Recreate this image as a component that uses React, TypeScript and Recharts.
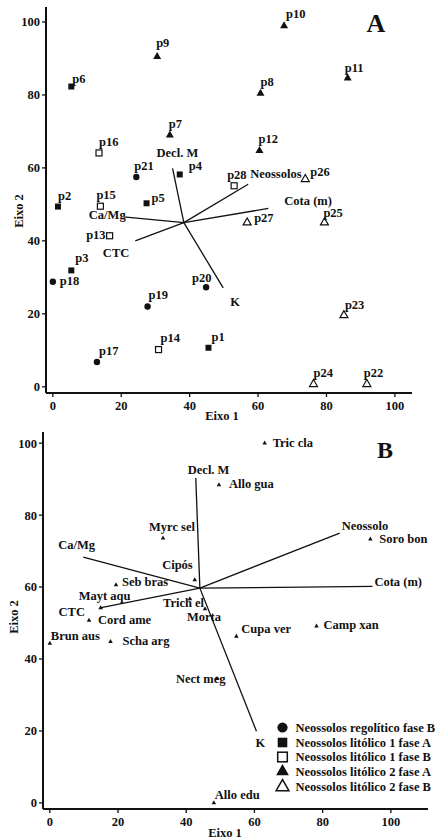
import React from 'react';
import { ScatterChart, Scatter, XAxis, YAxis, ReferenceLine, Label, Legend } from 'recharts';

const FONT = '"Liberation Serif", "Times New Roman", Times, serif';
const INK = '#111';

// ---------- Panel A: sample plots (Eixo 1, Eixo 2) ----------
const regoliticoB = [
  { name: 'p21', x: 24.4, y: 57.5 },
  { name: 'p18', x: 0, y: 28.8 },
  { name: 'p20', x: 44.8, y: 27.3 },
  { name: 'p19', x: 27.7, y: 22.0 },
  { name: 'p17', x: 12.9, y: 6.8 },
];
const litolico1A = [
  { name: 'p6', x: 5.4, y: 82.3 },
  { name: 'p4', x: 37.1, y: 58.2 },
  { name: 'p2', x: 1.5, y: 49.4 },
  { name: 'p5', x: 27.4, y: 50.3 },
  { name: 'p3', x: 5.4, y: 31.9 },
  { name: 'p1', x: 45.5, y: 10.7 },
];
const litolico1B = [
  { name: 'p16', x: 13.5, y: 64.1 },
  { name: 'p15', x: 13.9, y: 49.5 },
  { name: 'p13', x: 16.6, y: 41.4 },
  { name: 'p28', x: 53.0, y: 55.1 },
  { name: 'p14', x: 30.9, y: 10.2 },
];
const litolico2A = [
  { name: 'p10', x: 67.6, y: 98.9 },
  { name: 'p9', x: 30.5, y: 90.5 },
  { name: 'p11', x: 86.2, y: 84.6 },
  { name: 'p8', x: 60.7, y: 80.4 },
  { name: 'p7', x: 34.2, y: 69.0 },
  { name: 'p12', x: 60.4, y: 64.7 },
];
const litolico2B = [
  { name: 'p26', x: 73.8, y: 56.9 },
  { name: 'p27', x: 56.8, y: 45.0 },
  { name: 'p25', x: 79.4, y: 45.0 },
  { name: 'p23', x: 85.1, y: 19.6 },
  { name: 'p24', x: 76.2, y: 0.7 },
  { name: 'p22', x: 91.8, y: 0.7 },
];
const vectorOriginA = { x: 38.3, y: 45.0 };
const vectorsA = [
  { name: 'Decl. M', x: 35.0, y: 59.9 },
  { name: 'Neossolos', x: 57.1, y: 55.5 },
  { name: 'Cota (m)', x: 63.0, y: 48.9 },
  { name: 'Ca/Mg', x: 20.7, y: 46.6 },
  { name: 'CTC', x: 24.1, y: 40.0 },
  { name: 'K', x: 49.8, y: 27.1 },
];

// ---------- Panel B: species ----------
const species = [
  { name: 'Tric cla', x: 63.0, y: 100.0 },
  { name: 'Allo gua', x: 49.6, y: 88.4 },
  { name: 'Soro bon', x: 94.0, y: 73.3 },
  { name: 'Myrc sel', x: 33.2, y: 73.6 },
  { name: 'Cipós', x: 42.5, y: 62.0 },
  { name: 'Seb bras', x: 19.4, y: 60.6 },
  { name: 'Mayt aqu', x: 14.9, y: 54.2 },
  { name: 'Cord ame', x: 11.5, y: 50.7 },
  { name: 'Brun aus', x: 0, y: 44.3 },
  { name: 'Scha arg', x: 17.8, y: 44.8 },
  { name: 'Trich el', x: 41.1, y: 56.7 },
  { name: 'Morta', x: 45.5, y: 53.9 },
  { name: 'Cupa ver', x: 54.7, y: 46.3 },
  { name: 'Camp xan', x: 78.2, y: 49.1 },
  { name: 'Nect meg', x: 49.0, y: 34.5 },
  { name: 'Allo edu', x: 48.1, y: 0 },
];
const vectorOriginB = { x: 44.0, y: 59.7 };
const vectorsB = [
  { name: 'Decl. M', x: 42.8, y: 90.3 },
  { name: 'Neossolo', x: 85.0, y: 75.0 },
  { name: 'Cota (m)', x: 94.6, y: 60.2 },
  { name: 'Ca/Mg', x: 9.8, y: 68.3 },
  { name: 'CTC', x: 14.7, y: 54.2 },
  { name: 'K', x: 60.6, y: 19.9 },
];

const axisTicks = [0, 20, 40, 60, 80, 100];
const legendLabels = [
  'Neossolos regolítico fase B',
  'Neossolos litólico 1 fase A',
  'Neossolos litólico 1 fase B',
  'Neossolos litólico 2 fase A',
  'Neossolos litólico 2 fase B',
];
const legendKinds = ['circle', 'square', 'squareOpen', 'tri', 'triOpen'];

// ---------- label placement (dx, dy, anchor) ----------
type Pos = [number, number, string?];
const labelPosA: Record<string, Pos> = {
  p6: [1, -4], p9: [-1, -10], p7: [-1, -7], p16: [0, -7], p21: [-2, -7],
  p4: [9, -4], p2: [0, -7], p15: [-4, -7], p5: [5, -1], p10: [2, -8],
  p11: [-3, -6], p8: [0, -7], p12: [-1, -8], p28: [-7, -7], p26: [5, -3],
  p27: [7, -1], p25: [-1, -6], p23: [1, -6], p1: [3, -7], p24: [0, -7],
  p22: [-3, -7], p13: [-4, 3, 'end'], p3: [4, -8], p18: [7, 3], p20: [-14, -5],
  p19: [1, -8], p14: [2, -8], p17: [2, -7],
};
const vecPosA: Record<string, Pos> = {
  'Decl. M': [-16, -11], Neossolos: [2, -6], 'Cota (m)': [16, -3],
  'Ca/Mg': [2, 2, 'end'], CTC: [-6, 16, 'end'], K: [7, 18],
};
const labelPosB: Record<string, Pos> = {
  'Tric cla': [8, 4], 'Allo gua': [10, 3], 'Soro bon': [9, 4], 'Myrc sel': [-14, -7],
  'Cipós': [-2, -11, 'end'], 'Seb bras': [6, 1], 'Mayt aqu': [-22, -8], 'Cord ame': [9, 3],
  'Brun aus': [1, -4], 'Scha arg': [12, 3], 'Trich el': [-27, 8], Morta: [-18, 12],
  'Cupa ver': [5, -3], 'Camp xan': [7, 3], 'Nect meg': [-41, 4], 'Allo edu': [1, -4],
};
const vecPosB: Record<string, Pos> = {
  'Decl. M': [-8, -4], Neossolo: [2, -3], 'Cota (m)': [2, 0],
  'Ca/Mg': [-25, -8], CTC: [-15, 8, 'end'], K: [-1, 16],
};

const textStyle = { fontFamily: FONT, fontWeight: 'bold' as const, fontSize: 12.5, fill: INK };

function drawMarker(kind: string, cx: number, cy: number, s: number) {
  switch (kind) {
    case 'circle':
      return <circle cx={cx} cy={cy} r={3.2 * s} fill={INK} />;
    case 'square':
      return <rect x={cx - 3 * s} y={cy - 3 * s} width={6 * s} height={6 * s} fill={INK} />;
    case 'squareOpen':
      return (
        <rect x={cx - 3 * s} y={cy - 3 * s} width={6 * s} height={6 * s} fill="#fff" stroke={INK} strokeWidth={1.2 * Math.sqrt(s)} />
      );
    case 'tri':
    case 'triOpen': {
      const w = 8 * s, h = 7 * s;
      const d = `M${cx},${cy - (h * 2) / 3} L${cx - w / 2},${cy + h / 3} L${cx + w / 2},${cy + h / 3} Z`;
      return kind === 'tri' ? (
        <path d={d} fill={INK} />
      ) : (
        <path d={d} fill="#fff" stroke={INK} strokeWidth={1.2 * Math.sqrt(s)} strokeLinejoin="miter" />
      );
    }
    case 'tiny': {
      const w = 4.5, h = 4;
      const d = `M${cx},${cy - (h * 2) / 3} L${cx - w / 2},${cy + h / 3} L${cx + w / 2},${cy + h / 3} Z`;
      return <path d={d} fill={INK} />;
    }
    default:
      return null;
  }
}

const makeShape = (kind: string, posMap: Record<string, Pos>, s = 1) => (props: any) => {
  const { cx, cy, payload } = props;
  if (cx == null || cy == null || !payload) return <g />;
  const pos = posMap[payload.name] || [5, -5];
  return (
    <g>
      {kind !== 'none' && drawMarker(kind, cx, cy, s)}
      <text x={cx + pos[0]} y={cy + pos[1]} textAnchor={(pos[2] as any) || 'start'} {...textStyle}>
        {payload.name}
      </text>
    </g>
  );
};

const tickStyle = { fill: INK, fontSize: 12.5, fontWeight: 'bold', fontFamily: FONT };

const LegendBox = () => {
  const baselines = [10.5, 25.5, 40, 54.5, 70];
  return (
    <svg width={161} height={80} style={{ overflow: 'visible', display: 'block' }}>
      {legendLabels.map((lab, i) => (
        <g key={lab}>
          {drawMarker(legendKinds[i], 7.5, baselines[i] - 4, 1.6)}
          <text x={20.5} y={baselines[i]} {...textStyle}>
            {lab}
          </text>
        </g>
      ))}
    </svg>
  );
};

export default function App() {
  return (
    <div style={{ position: 'relative', width: 436, height: 839, background: '#fff' }}>
      <style>{'body{margin:0;background:#fff}'}</style>
      <div style={{ position: 'absolute', left: 0, top: 0 }}>
        <ScatterChart width={436} height={425} margin={{ top: 7, right: 24, bottom: 0, left: 0 }}>
          <XAxis
            type="number"
            dataKey="x"
            domain={[-2, 105]}
            allowDataOverflow
            ticks={axisTicks}
            height={32}
            tickSize={4}
            tickMargin={4}
            tick={tickStyle}
            axisLine={{ stroke: INK, strokeWidth: 2 }}
            tickLine={{ stroke: INK, strokeWidth: 1.3 }}
          >
            <Label
              content={() => (
                <g>
                  <text x={222} y={420} textAnchor="middle" {...textStyle}>Eixo 1</text>
                  <text x={376} y={32} textAnchor="middle" {...textStyle} fontSize={26}>A</text>
                </g>
              )}
            />
          </XAxis>
          <YAxis
            type="number"
            dataKey="y"
            domain={[-1.7, 104.1]}
            allowDataOverflow
            ticks={axisTicks}
            width={46}
            tickSize={4}
            tickMargin={2}
            tick={tickStyle}
            axisLine={{ stroke: INK, strokeWidth: 2 }}
            tickLine={{ stroke: INK, strokeWidth: 1.3 }}
          >
            <Label
              content={() => (
                <text x={23} y={211} textAnchor="middle" transform="rotate(-90 23 211)" {...textStyle}>Eixo 2</text>
              )}
            />
          </YAxis>
          {vectorsA.map((v) => (
            <ReferenceLine
              key={v.name}
              segment={[{ x: vectorOriginA.x, y: vectorOriginA.y }, { x: v.x, y: v.y }]}
              stroke={INK}
              strokeWidth={1.3}
            />
          ))}
          <Scatter data={vectorsA} shape={makeShape('none', vecPosA)} isAnimationActive={false} />
          <Scatter data={regoliticoB} shape={makeShape('circle', labelPosA)} isAnimationActive={false} />
          <Scatter data={litolico1A} shape={makeShape('square', labelPosA)} isAnimationActive={false} />
          <Scatter data={litolico1B} shape={makeShape('squareOpen', labelPosA)} isAnimationActive={false} />
          <Scatter data={litolico2A} shape={makeShape('tri', labelPosA)} isAnimationActive={false} />
          <Scatter data={litolico2B} shape={makeShape('triOpen', labelPosA)} isAnimationActive={false} />
        </ScatterChart>
      </div>
      <div style={{ position: 'absolute', left: 0, top: 425 }}>
        <ScatterChart width={436} height={414} margin={{ top: 7, right: 8, bottom: 0, left: 0 }}>
          <XAxis
            type="number"
            dataKey="x"
            domain={[-2, 110.9]}
            allowDataOverflow
            ticks={axisTicks}
            height={30}
            tickSize={4}
            tickMargin={4}
            tick={tickStyle}
            axisLine={{ stroke: INK, strokeWidth: 2 }}
            tickLine={{ stroke: INK, strokeWidth: 1.3 }}
          >
            <Label
              content={() => (
                <g>
                  <text x={225} y={412} textAnchor="middle" {...textStyle}>Eixo 1</text>
                  <text x={385} y={33} textAnchor="middle" {...textStyle} fontSize={24}>B</text>
                </g>
              )}
            />
          </XAxis>
          <YAxis
            type="number"
            dataKey="y"
            domain={[-1.7, 103.1]}
            allowDataOverflow
            ticks={axisTicks}
            width={43}
            tickSize={4}
            tickMargin={2}
            tick={tickStyle}
            axisLine={{ stroke: INK, strokeWidth: 2 }}
            tickLine={{ stroke: INK, strokeWidth: 1.3 }}
          >
            <Label
              content={() => (
                <text x={18} y={192} textAnchor="middle" transform="rotate(-90 18 192)" {...textStyle}>Eixo 2</text>
              )}
            />
          </YAxis>
          {vectorsB.map((v) => (
            <ReferenceLine
              key={v.name}
              segment={[{ x: vectorOriginB.x, y: vectorOriginB.y }, { x: v.x, y: v.y }]}
              stroke={INK}
              strokeWidth={1.3}
            />
          ))}
          <Scatter data={vectorsB} shape={makeShape('none', vecPosB)} isAnimationActive={false} />
          <Scatter data={species} shape={makeShape('tiny', labelPosB)} isAnimationActive={false} />
          <Legend
            layout="vertical"
            align="center"
            verticalAlign="middle"
            content={() => <LegendBox />}
            wrapperStyle={{ left: 275, top: 296, width: 161, height: 80 }}
          />
        </ScatterChart>
      </div>
    </div>
  );
}
